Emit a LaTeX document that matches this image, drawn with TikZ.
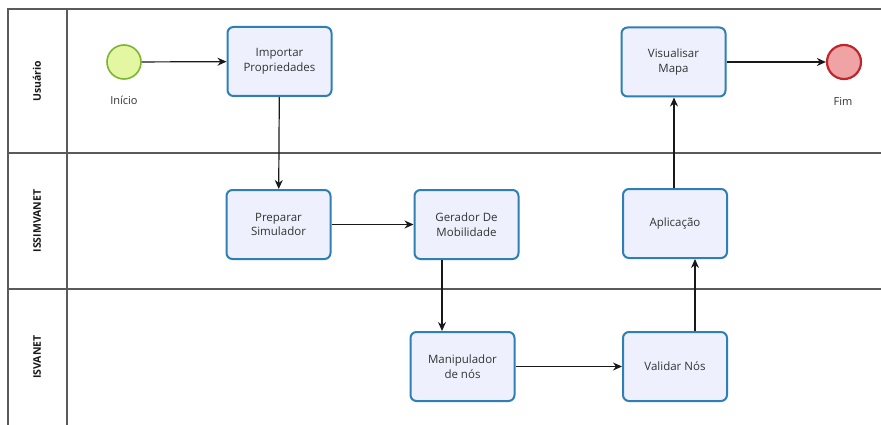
\documentclass[tikz,border=0pt]{standalone}
\usepackage{fontspec}
\setmainfont{Open Sans}
\usetikzlibrary{arrows.meta,calc}
\definecolor{taskfill}{HTML}{EEF1FD}
\definecolor{taskdraw}{HTML}{2F7FB3}
\definecolor{startfill}{HTML}{E3F7A2}
\definecolor{startdraw}{HTML}{7DB532}
\definecolor{endfill}{HTML}{EFA3A5}
\definecolor{enddraw}{HTML}{C0262D}
\definecolor{lanecol}{HTML}{5A5A5A}
\tikzset{
  task/.style={draw=taskdraw, fill=taskfill, line width=2pt, rounded corners=6pt,
    minimum width=104pt, minimum height=69pt, align=center, font=\fontsize{11.5}{14.5}\selectfont, text=black!80},
  startev/.style={circle, draw=startdraw, fill=startfill, line width=1.6pt, minimum size=34pt, inner sep=0pt},
  endev/.style={circle, draw=enddraw, fill=endfill, line width=2.2pt, minimum size=34pt, inner sep=0pt},
  evlabel/.style={font=\fontsize{11}{13}\selectfont, text=black!80},
  flow/.style={-{Stealth[length=9pt,width=8pt]}, line width=1.2pt, black!90},
  lane/.style={draw=lanecol, line width=1.4pt},
  lanelabel/.style={rotate=90, font=\bfseries\fontsize{10.5}{12}\selectfont, text=black!90}
}
\begin{document}
\begin{tikzpicture}[x=1pt,y=-1pt]
\useasboundingbox (0,0) rectangle (881,425);
\fill[white] (0,0) rectangle (881,425);
% pool and lanes
\draw[lane] (881,9) -- (8,9) -- (8,426);
\draw[lane] (67,9) -- (67,426);
\draw[lane] (8,153) -- (881,153);
\draw[lane] (8,289) -- (881,289);
\node[lanelabel] (l1) at (37,81) {Usuário};
\node[lanelabel] (l2) at (37,221) {ISSIMVANET};
\node[lanelabel] (l3) at (37,357) {ISVANET};
% events
\node[startev] (start) at (124,62) {};
\node[evlabel] (startl) at (124,100) {Início};
\node[endev] (fim) at (844,62) {};
\node[evlabel] (fiml) at (843,101) {Fim};
% tasks
\node[task] (imp) at (279.5,61.5) {Importar\\Propriedades};
\node[task] (vis) at (673.5,62) {Visualisar\\Mapa};
\node[task] (prep) at (278.5,224.5) {Preparar\\Simulador};
\node[task] (ger) at (466.5,224.5) {Gerador De\\Mobilidade};
\node[task] (apl) at (675,223.5) {Aplicação};
\node[task] (man) at (462.5,366.5) {Manipulador\\de nós};
\node[task] (val) at (675,366.5) {Validar Nós};
% flows
\coordinate (gx) at (442,0);
\coordinate (vx) at (695,0);
\coordinate (ax) at (674,0);
\draw[flow] (start) -- (imp);
\draw[flow] (imp) -- (prep);
\draw[flow] (prep) -- (ger);
\draw[flow] (ger.south -| gx) -- (man.north -| gx);
\draw[flow] (man) -- (val);
\draw[flow] (val.north -| vx) -- (apl.south -| vx);
\draw[flow] (apl.north -| ax) -- (vis.south -| ax);
\draw[flow] (vis) -- (fim);
\end{tikzpicture}
\end{document}
